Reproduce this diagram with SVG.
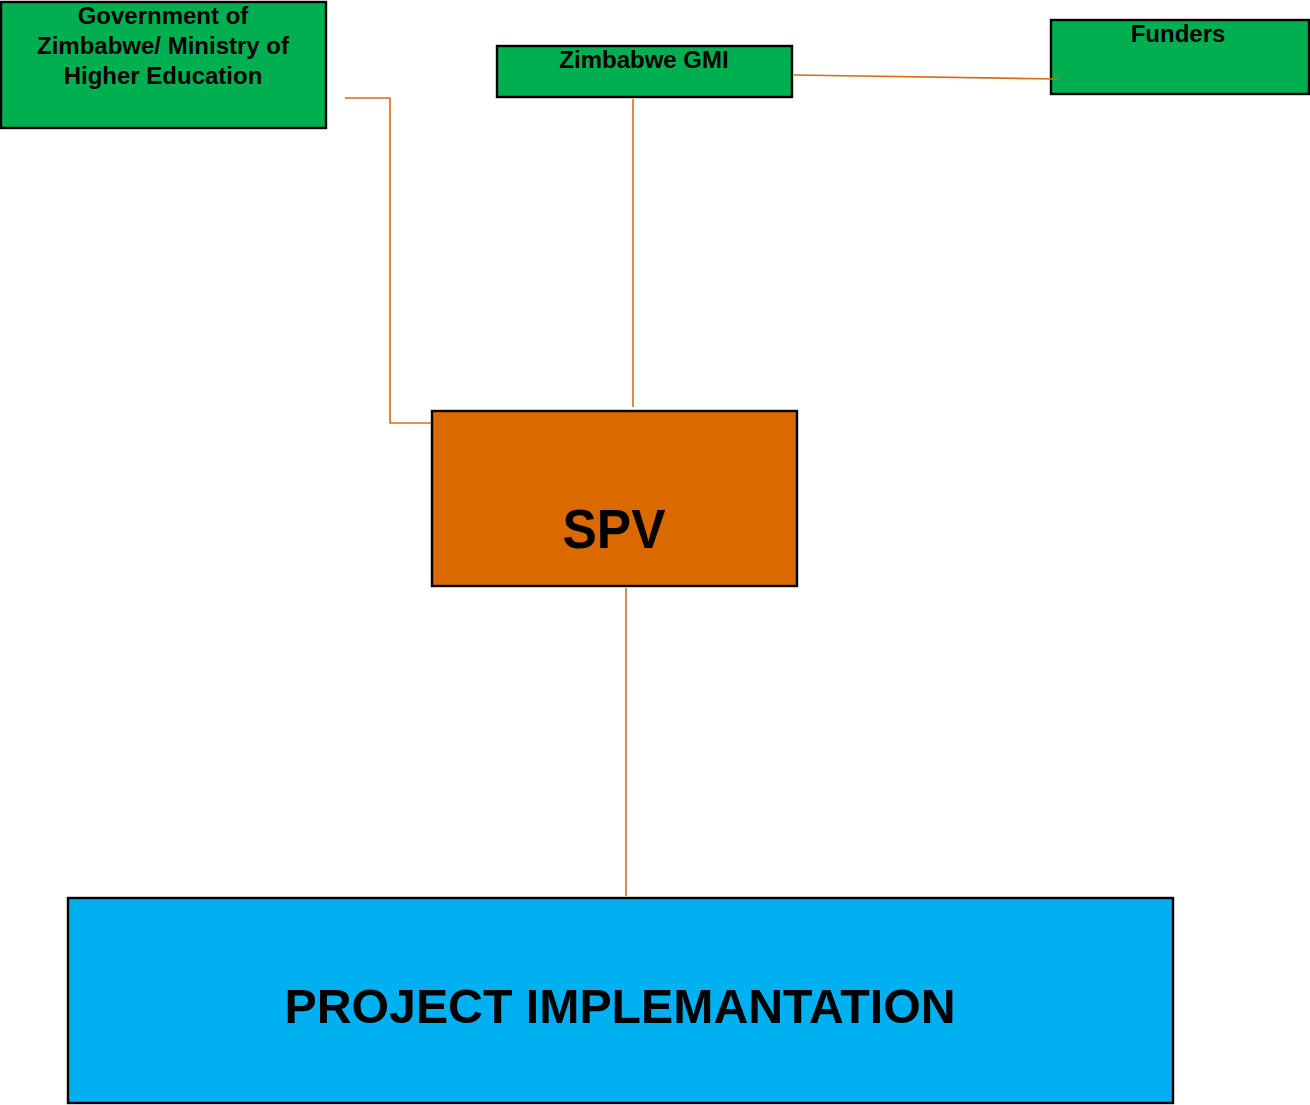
<svg xmlns="http://www.w3.org/2000/svg" width="1310" height="1105" viewBox="0 0 1310 1105">
<style>
.box{stroke:#000;stroke-width:2.4}
.green{fill:#00B050}
.t{font-family:"Liberation Sans",Arial,sans-serif;font-weight:bold;fill:#000;text-anchor:middle}
.s{font-size:24px}
.conn{fill:none;stroke:#D86C14;stroke-width:1.6}
</style>
<rect width="1310" height="1105" fill="#fff"/>
<g id="gov">
<rect class="box green" x="1" y="2" width="325" height="126"/>
<text class="t s" x="163" y="24">Government of</text>
<text class="t s" x="163" y="54">Zimbabwe/ Ministry of</text>
<text class="t s" x="163" y="84">Higher Education</text>
</g>
<g id="gmi">
<rect class="box green" x="497" y="46" width="295" height="51"/>
<text class="t s" x="644" y="68">Zimbabwe GMI</text>
</g>
<g id="funders">
<rect class="box green" x="1051" y="20" width="258" height="74"/>
<text class="t s" x="1178" y="42">Funders</text>
</g>
<g id="spv">
<rect class="box" x="432" y="411" width="365" height="175" fill="#DA6900"/>
<text class="t" x="614" y="548" font-size="55" textLength="103" lengthAdjust="spacingAndGlyphs">SPV</text>
</g>
<g id="project">
<rect class="box" x="68" y="898" width="1105" height="205" fill="#00B0F0"/>
<text class="t" x="620" y="1023" font-size="48" textLength="671" lengthAdjust="spacingAndGlyphs">PROJECT IMPLEMANTATION</text>
</g>
<g id="connectors">
<polyline class="conn" points="345,98 390,98 390,423 431,423"/>
<line class="conn" x1="633" y1="99" x2="633" y2="407"/>
<line class="conn" x1="794" y1="75" x2="1057" y2="79"/>
<line class="conn" x1="626" y1="588" x2="626" y2="896"/>
</g>
</svg>
